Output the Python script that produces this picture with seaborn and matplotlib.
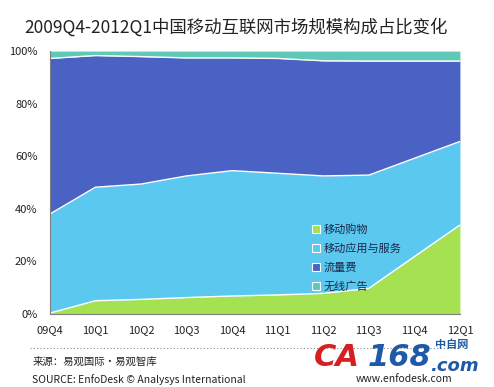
import matplotlib
matplotlib.use('Agg')
import matplotlib.pyplot as plt
import seaborn as sns
import numpy as np
from matplotlib.patches import Patch

quarters = ['09Q4', '10Q1', '10Q2', '10Q3', '10Q4', '11Q1', '11Q2', '11Q3', '11Q4', '12Q1']
# share of each segment (%), bottom to top
shopping = [0.3, 5.0, 5.5, 6.2, 6.8, 7.2, 7.8, 9.7, 21.8, 33.8]
apps = [37.7, 43.2, 43.9, 46.3, 47.7, 46.3, 44.7, 43.1, 37.4, 31.8]
traffic = [59.2, 50.1, 48.5, 44.9, 42.9, 43.7, 43.8, 43.4, 37.0, 30.6]
ads = [2.8, 1.7, 2.1, 2.6, 2.6, 2.8, 3.7, 3.8, 3.8, 3.8]

labels = ['移动购物', '移动应用与服务', '流量费', '无线广告']
colors = ['#a5e150', '#5bc8f0', '#4a62c4', '#60c8b6']

sns.set_style('white')
plt.rcParams['font.family'] = ['Noto Sans CJK SC', 'DejaVu Sans']

fig = plt.figure(figsize=(4.94, 3.87), dpi=100)
ax = fig.add_axes([0.101, 0.189, 0.83, 0.679])

x = np.arange(len(quarters))
series = [shopping, apps, traffic, ads]
bottom = np.zeros(len(quarters))
for vals, col in zip(series, colors):
    top = bottom + np.array(vals)
    ax.fill_between(x, bottom, top, color=col, linewidth=0)
    bottom = top

# white separator lines between segments
cum = np.cumsum(series, axis=0)
for row in cum[:-1]:
    sns.lineplot(x=x, y=row, color='white', linewidth=1.0, ax=ax)

ax.set_xlim(0, len(quarters) - 1)
ax.set_ylim(0, 100)
ax.set_xticks(x)
ax.set_xticklabels(quarters, fontsize=8, color='#222222')
ax.set_yticks([0, 20, 40, 60, 80, 100])
ax.set_yticklabels(['0%', '20%', '40%', '60%', '80%', '100%'], fontsize=8, color='#222222')
ax.tick_params(axis='x', pad=8, length=0)
ax.tick_params(axis='y', pad=9, length=0)
for s in ['top', 'right']:
    ax.spines[s].set_visible(False)
for s in ['left', 'bottom']:
    ax.spines[s].set_color('#7f7f7f')
    ax.spines[s].set_linewidth(0.8)

handles = [Patch(facecolor=c, edgecolor='white', linewidth=0.8) for c in colors]
leg = ax.legend(handles, labels, loc='lower left', bbox_to_anchor=(0.615, 0.045),
                frameon=False, fontsize=8, handlelength=0.7, handleheight=0.7,
                handletextpad=0.35, labelspacing=0.75)
for t in leg.get_texts():
    t.set_color('#1a2a4a')

fig.text(0.05, 0.93, '2009Q4-2012Q1中国移动互联网市场规模构成占比变化', fontsize=12.5,
         color='#222222', va='center', ha='left')

fig.add_artist(plt.Line2D([0.06, 0.93], [0.1, 0.1], color='#888888', linewidth=0.8,
                          linestyle=(0, (1, 2))))
fig.text(0.065, 0.065, '来源：易观国际·易观智库', fontsize=7.5, color='#222222', va='center')
fig.text(0.065, 0.02, 'SOURCE: EnfoDesk © Analysys International', fontsize=7.5,
         color='#222222', va='center')
fig.text(0.72, 0.02, 'www.enfodesk.com', fontsize=7.5, color='#222222', va='center')

# watermark logo
fig.text(0.635, 0.075, 'CA', fontsize=22, color='#d42020', fontweight='bold',
         style='italic', va='center', family='DejaVu Sans')
fig.text(0.745, 0.075, '168', fontsize=22, color='#1e5aa8', fontweight='bold',
         style='italic', va='center', family='DejaVu Sans')
fig.text(0.88, 0.11, '中自网', fontsize=8, color='#1e5aa8', va='center', fontweight='bold')
fig.text(0.87, 0.055, '.com', fontsize=13, color='#1e5aa8', fontweight='bold',
         style='italic', va='center', family='DejaVu Sans')

fig.savefig('out.png', dpi=100)
